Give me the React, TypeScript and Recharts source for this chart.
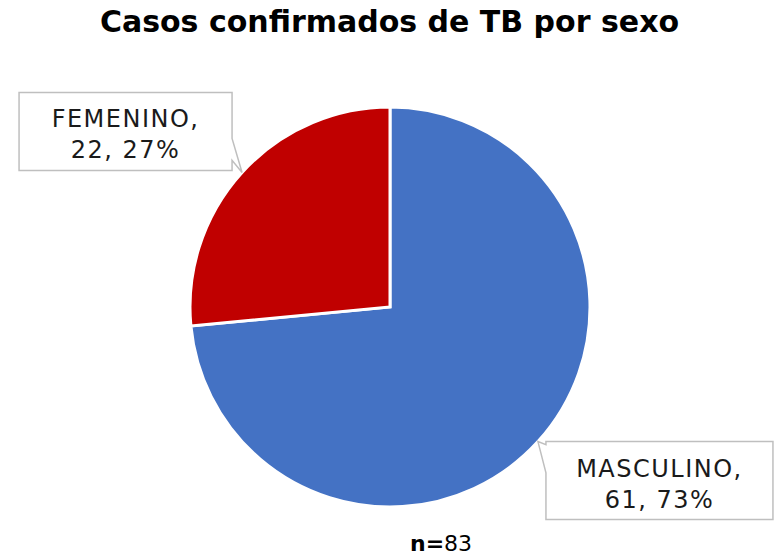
import { PieChart, Pie, Cell } from "recharts";

const categories = ["MASCULINO", "FEMENINO"];
const cases = [61, 22];
const colors = ["#4472C4", "#C00000"];
const total = 83;

const data = categories.map((name, i) => ({ name, value: cases[i] }));

const RADIAN = Math.PI / 180;
const FONT = "'DejaVu Sans', sans-serif";

function CalloutLabel(props: any) {
  const { cx, cy, midAngle, outerRadius, name, value } = props;
  const tipX = cx + outerRadius * Math.cos(-midAngle * RADIAN);
  const tipY = cy + outerRadius * Math.sin(-midAngle * RADIAN);
  const sx = tipX < cx ? -1 : 1;
  const sy = tipY < cy ? -1 : 1;
  const pct = Math.round((value / total) * 100);
  const line1 = `${name},`;
  const line2 = `${value}, ${pct}%`;
  const w = 14 * line1.length + 87;
  const h = 78;
  const x0 = sx < 0 ? tipX - 10 - w : tipX + 8;
  const x1 = x0 + w;
  const y0 = sy < 0 ? tipY - 2 - h : tipY;
  const y1 = y0 + h;
  const a = y0 + (sy < 0 ? 0.59 : 0.04) * h;
  const b = y0 + (sy < 0 ? 0.87 : 0.4) * h;
  const d =
    sx < 0
      ? `M${x0},${y0} L${x1},${y0} L${x1},${a} L${tipX},${tipY} L${x1},${b} L${x1},${y1} L${x0},${y1} Z`
      : `M${x0},${y0} L${x1},${y0} L${x1},${y1} L${x0},${y1} L${x0},${b} L${tipX},${tipY} L${x0},${a} Z`;
  const tx = (x0 + x1) / 2;
  return (
    <g>
      <path d={d} fill="#fff" stroke="#bfbfbf" strokeWidth={1.5} />
      <text
        x={tx}
        y={y0 + 35}
        textAnchor="middle"
        fontFamily={FONT}
        fontSize={24}
        letterSpacing={1.5}
        fill="#1a1a1a"
      >
        {line1}
      </text>
      <text
        x={tx}
        y={y0 + 66}
        textAnchor="middle"
        fontFamily={FONT}
        fontSize={24}
        letterSpacing={1.5}
        fill="#1a1a1a"
      >
        {line2}
      </text>
    </g>
  );
}

export default function App() {
  return (
    <div
      style={{
        position: "absolute",
        left: 0,
        top: 0,
        width: 779,
        height: 557,
        background: "#fff",
      }}
    >
      <PieChart
        width={779}
        height={557}
        margin={{ top: 0, right: 0, bottom: 0, left: 0 }}
      >
        <Pie
          data={data}
          dataKey="value"
          nameKey="name"
          cx={390}
          cy={307}
          outerRadius={200}
          startAngle={90}
          endAngle={-270}
          stroke="#fff"
          strokeWidth={3}
          label={CalloutLabel}
          labelLine={false}
          isAnimationActive={false}
        >
          {data.map((d, i) => (
            <Cell key={d.name} fill={colors[i]} />
          ))}
        </Pie>
      </PieChart>
      <div
        style={{
          position: "absolute",
          top: 4,
          left: 0,
          width: 779,
          textAlign: "center",
          fontFamily: FONT,
          fontWeight: "bold",
          fontSize: 30,
          color: "#000",
        }}
      >
        Casos confirmados de TB por sexo
      </div>
      <div
        style={{
          position: "absolute",
          top: 531,
          left: 410,
          fontFamily: FONT,
          fontSize: 22,
          color: "#000",
        }}
      >
        <b>n=</b>
        {total}
      </div>
    </div>
  );
}
